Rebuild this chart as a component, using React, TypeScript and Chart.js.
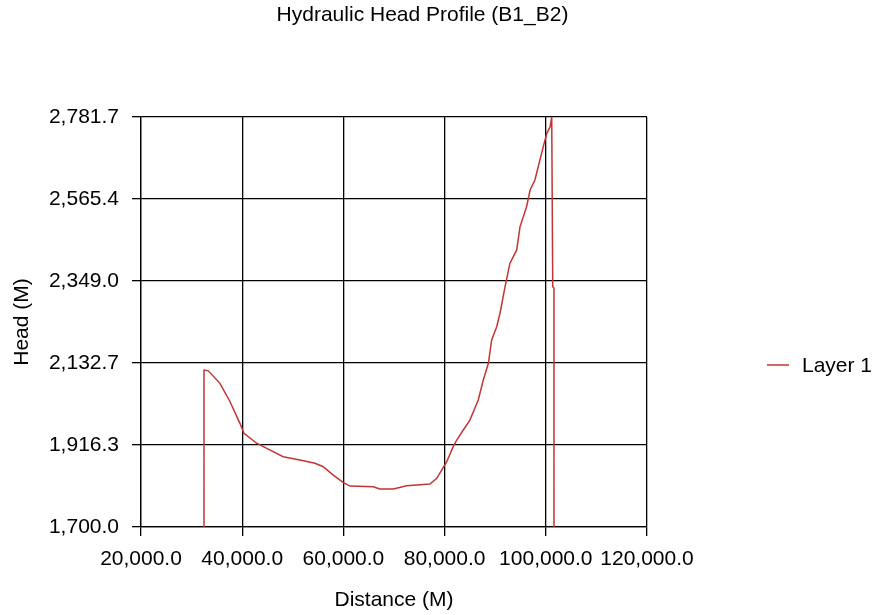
import React, { useEffect, useRef } from "react";
import { Chart, registerables } from "chart.js";

Chart.register(...registerables);

const chartTitle = "Hydraulic Head Profile (B1_B2)";
const xAxisTitle = "Distance (M)";
const yAxisTitle = "Head (M)";
const seriesLabel = "Layer 1";

const distance = [
  32450, 32450, 33300, 35600, 37600, 39550, 40350, 42850, 44850, 48100,
  51400, 54400, 56000, 58000, 60000, 61300, 65900, 67200, 69850, 72500,
  77100, 78450, 80400, 81700, 82400, 83700, 85000, 86650, 87650, 88650,
  89300, 90300, 90950, 91950, 92900, 94250, 94900, 96200, 96900, 97850,
  98500, 99500, 100200, 100850, 101170, 101370, 101620, 101620,
];
const head = [
  1700.0, 2114.0, 2112.0, 2079.0, 2030.5, 1973.5, 1947.0, 1921.0, 1907.5, 1885.5,
  1877.0, 1868.0, 1859.0, 1837.0, 1817.0, 1808.0, 1806.0, 1800.5, 1800.5, 1809.0,
  1813.5, 1828.5, 1871.5, 1912.0, 1929.5, 1956.0, 1982.0, 2035.0, 2088.0, 2132.0,
  2193.5, 2228.5, 2264.0, 2334.0, 2395.5, 2431.0, 2492.0, 2545.0, 2589.0, 2615.5,
  2650.5, 2703.5, 2738.5, 2756.0, 2781.7, 2334.0, 2330.5, 1700.0,
];

const yTickValues = [1700.0, 1916.34, 2132.68, 2349.02, 2565.36, 2781.7];
const xTickValues = [20000, 40000, 60000, 80000, 100000, 120000];

const FONT = "'Liberation Sans', Arial, sans-serif";
const FONT_SIZE = 21;
const LINE_COLOR = "rgb(196, 52, 52)";

const fmt = (v: number) =>
  Number(v).toLocaleString("en-US", { minimumFractionDigits: 1, maximumFractionDigits: 1 });

const legendPlugin = {
  id: "sideLegend",
  afterDraw(chart: any) {
    const { ctx, chartArea } = chart;
    const ds = chart.data.datasets[0];
    const cy = 366;
    const x0 = chartArea.right + 120;
    ctx.save();
    ctx.strokeStyle = ds.borderColor;
    ctx.lineWidth = 1.5;
    ctx.beginPath();
    ctx.moveTo(x0, cy - 1);
    ctx.lineTo(x0 + 22, cy - 1);
    ctx.stroke();
    ctx.fillStyle = "#000";
    ctx.font = `${FONT_SIZE}px ${FONT}`;
    ctx.textBaseline = "middle";
    ctx.textAlign = "left";
    ctx.fillText(ds.label, x0 + 35, cy);
    ctx.restore();
  },
};

export default function App() {
  const ref = useRef<HTMLCanvasElement | null>(null);
  useEffect(() => {
    if (!ref.current) return;
    const points = distance.map((x, i) => ({ x, y: head[i] }));
    const chart = new Chart(ref.current, {
      type: "scatter",
      data: {
        datasets: [
          {
            label: seriesLabel,
            data: points,
            showLine: true,
            borderColor: LINE_COLOR,
            backgroundColor: LINE_COLOR,
            borderWidth: 1.5,
            pointRadius: 0,
            tension: 0,
          },
        ],
      },
      options: {
        animation: false,
        responsive: false,
        maintainAspectRatio: false,
        layout: { padding: { left: 0, right: 30, top: 0, bottom: 0 } },
        plugins: {
          legend: { display: false },
          tooltip: { enabled: false },
          title: {
            display: true,
            text: chartTitle,
            color: "#000",
            font: { family: FONT, size: FONT_SIZE, weight: "normal" },
            padding: { top: 3, bottom: 88.8 },
          },
        },
        scales: {
          x: {
            type: "linear",
            min: 20000,
            max: 120000,
            afterBuildTicks: (s: any) => {
              s.ticks = xTickValues.map((v) => ({ value: v }));
            },
            afterFit: (s: any) => {
              s.height = 88;
            },
            ticks: {
              color: "#000",
              font: { family: FONT, size: FONT_SIZE },
              padding: 11,
              maxRotation: 0,
              autoSkip: false,
              callback: (v: any) => fmt(v),
            },
            grid: { color: "#000", lineWidth: 1.3, tickLength: 9, drawTicks: true },
            border: { color: "#000", width: 1.3 },
            title: {
              display: true,
              text: xAxisTitle,
              color: "#000",
              font: { family: FONT, size: FONT_SIZE },
              padding: { top: 0, bottom: 2.4 },
            },
          },
          y: {
            type: "linear",
            min: 1700,
            max: 2781.7,
            afterBuildTicks: (s: any) => {
              s.ticks = yTickValues.map((v) => ({ value: v }));
            },
            afterFit: (s: any) => {
              s.width = 141;
            },
            ticks: {
              color: "#000",
              font: { family: FONT, size: FONT_SIZE },
              padding: 13,
              autoSkip: false,
              callback: (v: any) => fmt(v),
            },
            grid: { color: "#000", lineWidth: 1.3, tickLength: 9, drawTicks: true },
            border: { color: "#000", width: 1.3 },
            title: {
              display: true,
              text: yAxisTitle,
              color: "#000",
              font: { family: FONT, size: FONT_SIZE },
              padding: { top: 10, bottom: 0 },
            },
          },
          legendSpace: {
            type: "linear",
            position: "right",
            display: true,
            grid: { display: false, drawTicks: false },
            border: { display: false },
            ticks: { display: false },
            afterFit: (s: any) => {
              s.width = 198;
            },
          },
        },
      },
      plugins: [legendPlugin],
    });
    return () => chart.destroy();
  }, []);

  return (
    <div style={{ position: "fixed", left: 0, top: 0, width: 875, height: 615, background: "#fff" }}>
      <canvas ref={ref} width={875} height={615} style={{ width: 875, height: 615 }} />
    </div>
  );
}
